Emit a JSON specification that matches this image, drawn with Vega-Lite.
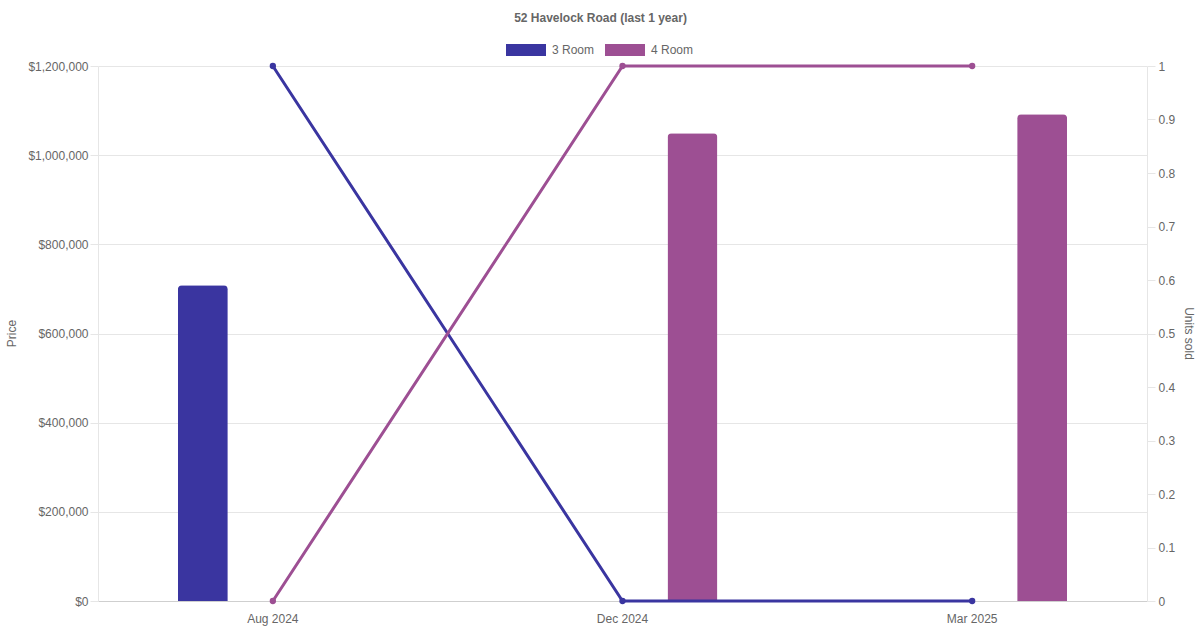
{
  "$schema": "https://vega.github.io/schema/vega-lite/v6.json",
  "autosize": "none",
  "width": 1049,
  "height": 535,
  "padding": {"left": 98, "top": 66, "right": 53, "bottom": 29},
  "background": "white",
  "title": {
    "text": "52 Havelock Road (last 1 year)",
    "font": "Liberation Sans",
    "fontSize": 12,
    "fontWeight": "bold",
    "color": "#666666",
    "anchor": "middle",
    "frame": "group",
    "offset": 5,
    "dx": -22
  },
  "datasets": {
    "bars": [
      {"month": "Aug 2024", "type": "3 Room", "price": 708000},
      {"month": "Dec 2024", "type": "4 Room", "price": 1049000},
      {"month": "Mar 2025", "type": "4 Room", "price": 1092000}
    ],
    "units": [
      {"month": "Aug 2024", "type": "3 Room", "units": 1},
      {"month": "Dec 2024", "type": "3 Room", "units": 0},
      {"month": "Mar 2025", "type": "3 Room", "units": 0},
      {"month": "Aug 2024", "type": "4 Room", "units": 0},
      {"month": "Dec 2024", "type": "4 Room", "units": 1},
      {"month": "Mar 2025", "type": "4 Room", "units": 1}
    ]
  },
  "encoding": {
    "x": {
      "field": "month",
      "type": "nominal",
      "sort": ["Aug 2024", "Dec 2024", "Mar 2025"],
      "scale": {"domain": ["Aug 2024", "Dec 2024", "Mar 2025"], "paddingInner": 0, "paddingOuter": 0},
      "axis": {
        "title": null,
        "labelAngle": 0,
        "ticks": false,
        "labelPadding": 12,
        "domainColor": "#cfcfcf",
        "grid": false,
        "labelFont": "Liberation Sans",
        "labelFontSize": 12,
        "labelColor": "#666666"
      }
    },
    "color": {
      "field": "type",
      "type": "nominal",
      "scale": {"domain": ["3 Room", "4 Room"], "range": ["#3a35a0", "#9d4f93"]},
      "legend": {
        "title": null,
        "orient": "none",
        "direction": "horizontal",
        "legendX": 408,
        "legendY": -36,
        "symbolType": "M-1,-0.3H1V0.3H-1Z",
        "symbolSize": 1600,
        "symbolStrokeWidth": 0,
        "symbolOpacity": 1,
        "labelOffset": 6,
        "columnPadding": 10,
        "labelFont": "Liberation Sans",
        "labelFontSize": 12,
        "labelColor": "#666666"
      }
    }
  },
  "layer": [
    {
      "data": {"name": "bars"},
      "mark": {"type": "bar", "width": 50, "cornerRadiusTopLeft": 4, "cornerRadiusTopRight": 4},
      "encoding": {
        "xOffset": {
          "field": "type",
          "type": "nominal",
          "scale": {"domain": ["3 Room", "4 Room"], "paddingInner": 0, "paddingOuter": 0.249}
        },
        "y": {
          "field": "price",
          "type": "quantitative",
          "scale": {"domain": [0, 1200000], "nice": false},
          "axis": {
            "title": "Price",
            "values": [0, 200000, 400000, 600000, 800000, 1000000, 1200000],
            "format": "$,.0f",
            "gridColor": "#e6e6e6",
            "domainColor": "#e6e6e6",
            "tickColor": "#e6e6e6",
            "tickSize": 8,
            "labelPadding": 2,
            "labelFont": "Liberation Sans",
            "labelFontSize": 12,
            "labelColor": "#666666",
            "titleFont": "Liberation Sans",
            "titleFontSize": 12,
            "titleFontWeight": "normal",
            "titleColor": "#666666",
            "titleX": -87,
            "titleY": 267,
            "titleAngle": -90,
            "titleAlign": "center",
            "titleBaseline": "middle"
          }
        }
      }
    },
    {
      "data": {"name": "units"},
      "mark": {"type": "line", "strokeWidth": 3, "point": {"filled": true, "size": 40}},
      "encoding": {
        "y": {
          "field": "units",
          "type": "quantitative",
          "scale": {"domain": [0, 1], "nice": false},
          "axis": {
            "orient": "right",
            "title": "Units sold",
            "values": [0, 0.1, 0.2, 0.3, 0.4, 0.5, 0.6, 0.7, 0.8, 0.9, 1],
            "format": ".1~f",
            "grid": false,
            "domainColor": "#e6e6e6",
            "tickColor": "#e6e6e6",
            "tickSize": 8,
            "labelPadding": 3,
            "labelFont": "Liberation Sans",
            "labelFontSize": 12,
            "labelColor": "#666666",
            "titleFont": "Liberation Sans",
            "titleFontSize": 12,
            "titleFontWeight": "normal",
            "titleColor": "#666666",
            "titleX": 41,
            "titleY": 267,
            "titleAngle": 90,
            "titleAlign": "center",
            "titleBaseline": "middle"
          }
        }
      }
    }
  ],
  "resolve": {"scale": {"y": "independent"}},
  "config": {"view": {"stroke": null}}
}
